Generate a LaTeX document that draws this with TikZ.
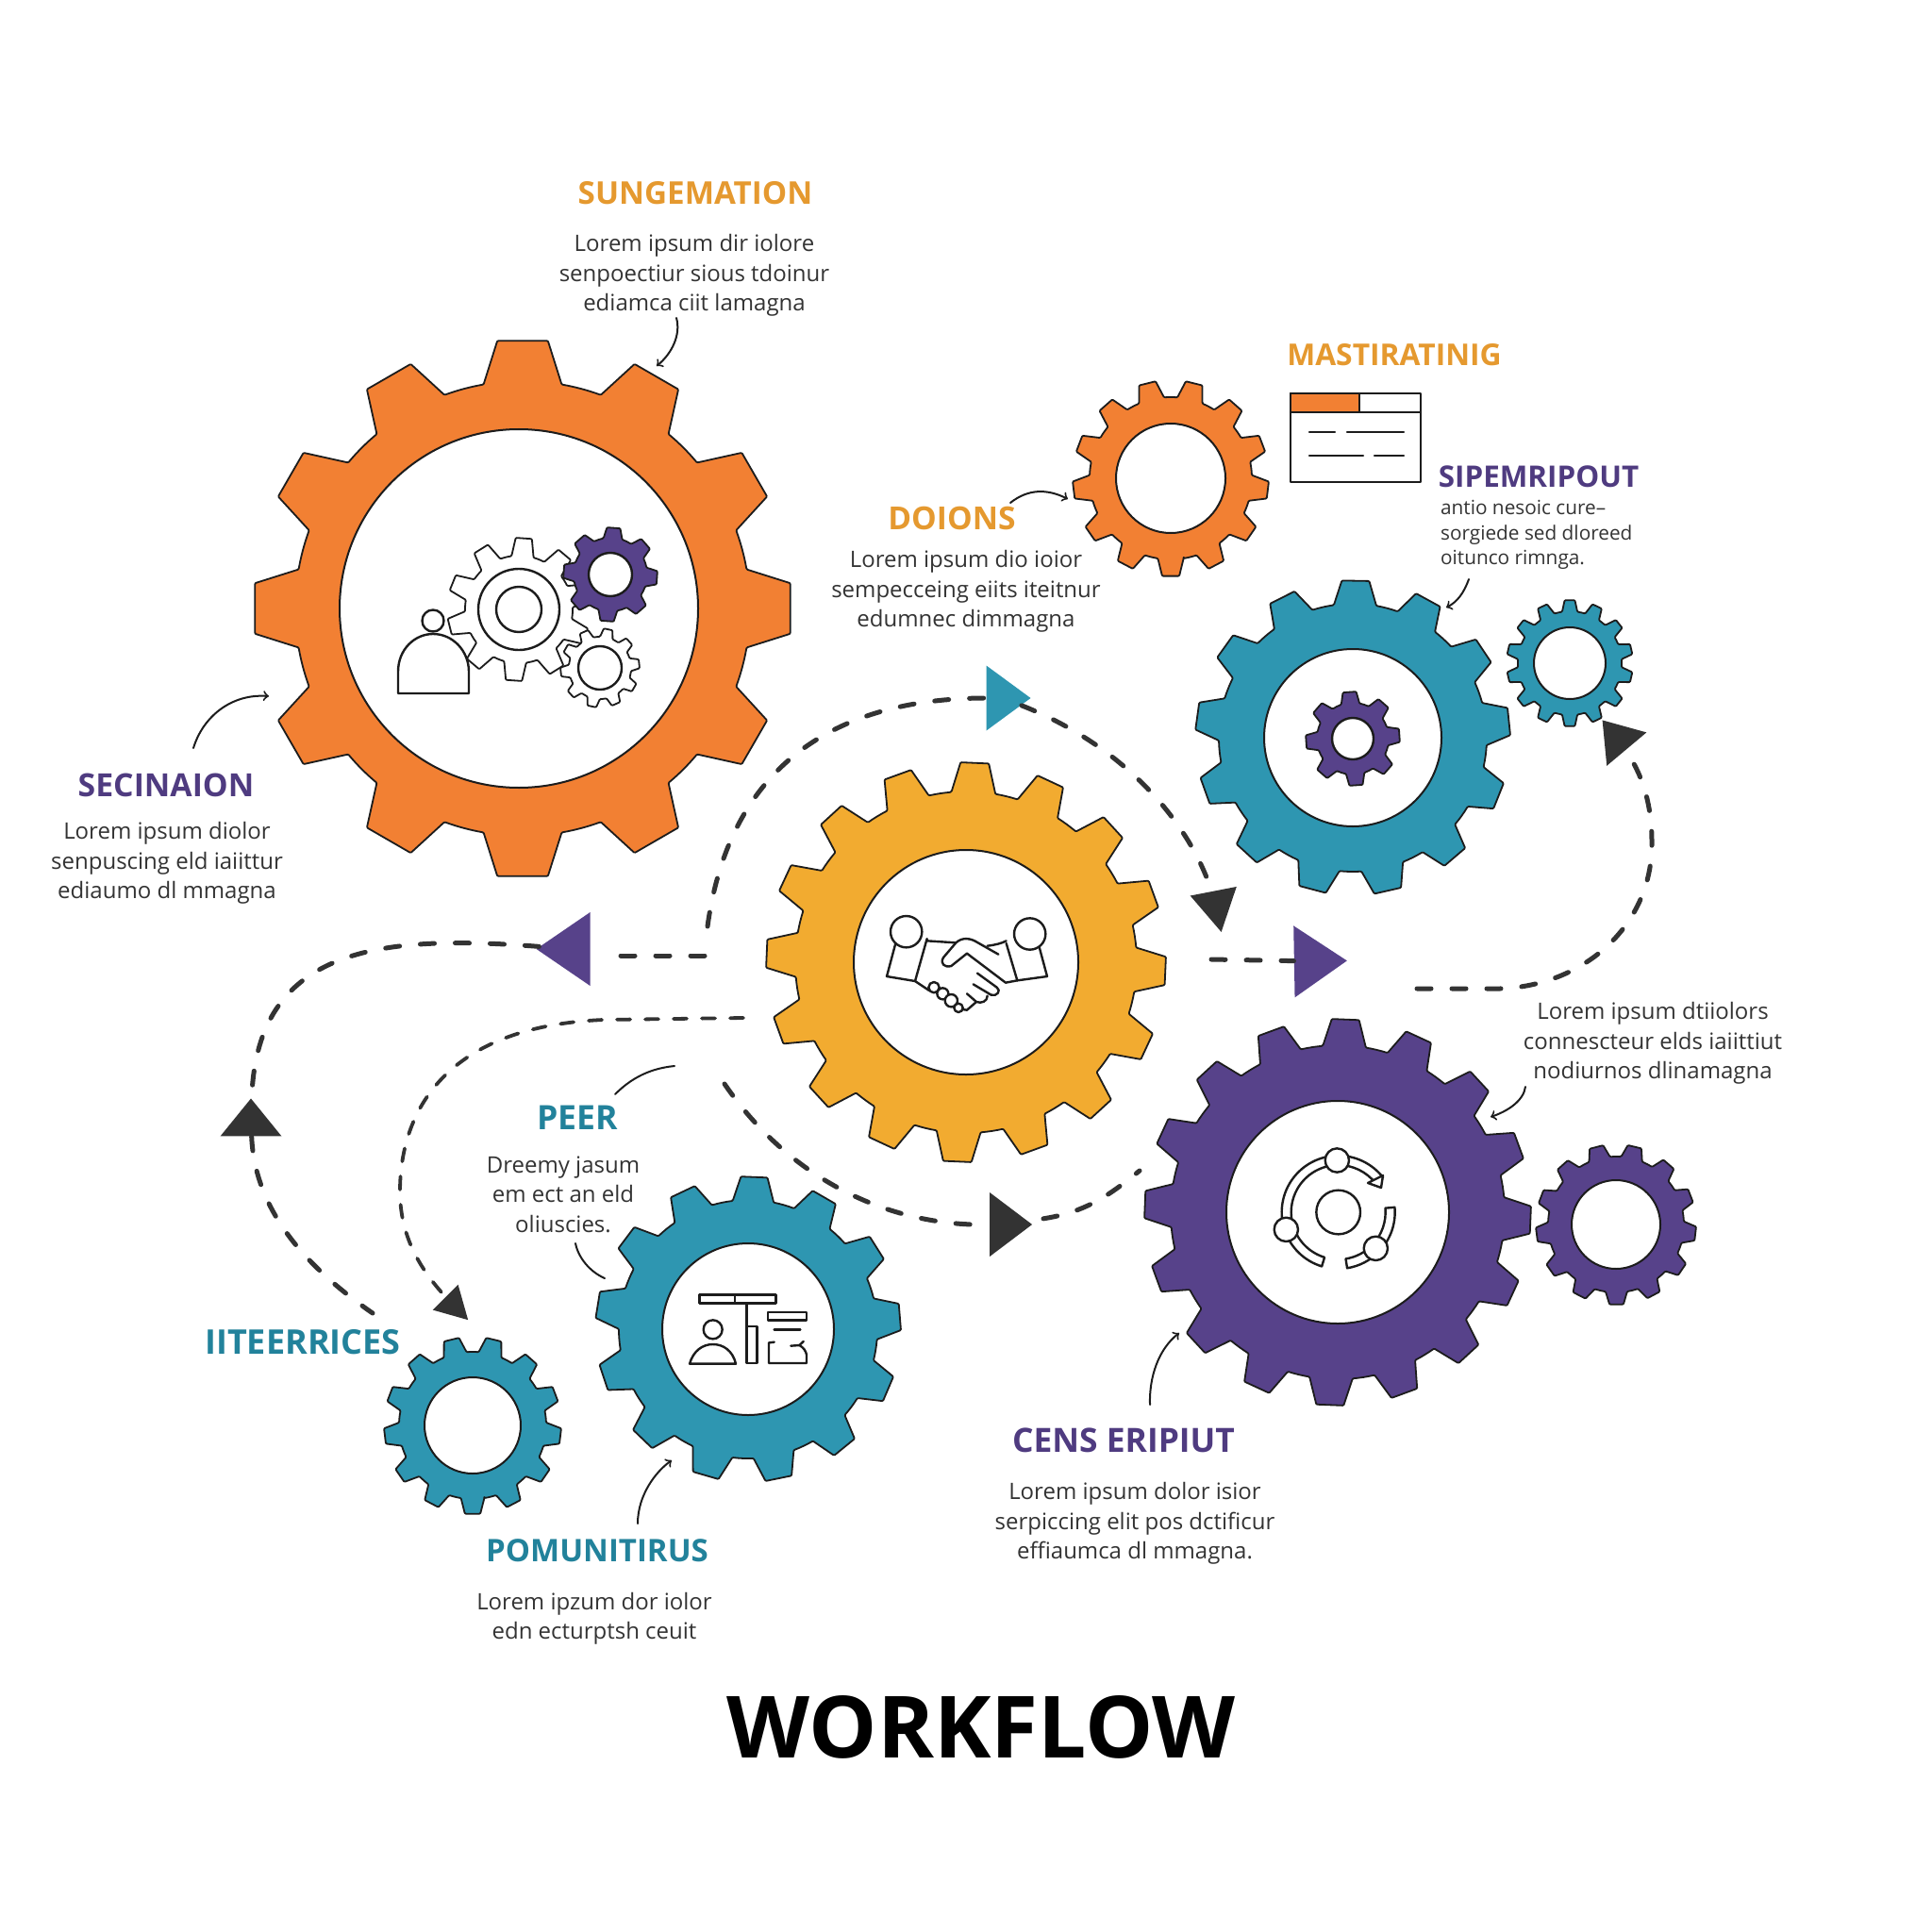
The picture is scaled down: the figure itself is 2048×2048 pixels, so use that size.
\documentclass[tikz,border=0pt]{standalone}
\usepackage{fontspec}
\setmainfont{Open Sans}
\usetikzlibrary{shapes.geometric,arrows}
\definecolor{gearO}{HTML}{F28033}
\definecolor{gearY}{HTML}{F2AB30}
\definecolor{gearT}{HTML}{2E96B1}
\definecolor{gearP}{HTML}{57428A}
\definecolor{labO}{HTML}{E5992F}
\definecolor{labT}{HTML}{22829B}
\definecolor{labP}{HTML}{4F3B80}
\definecolor{ink}{HTML}{1C1C1C}
\definecolor{dashc}{HTML}{333333}
\tikzset{
	gearline/.style={draw=ink,line width=.9pt,line join=round,rounded corners=.5pt},
	holec/.style={circle,draw=ink,line width=1pt,fill=white,inner sep=0pt},
	iconl/.style={draw=ink,line width=1.2pt,line join=round,line cap=round},
	dashl/.style={draw=dashc,line width=2.5pt,line cap=round,dash pattern=on 7.5pt off 11pt},
	dashm/.style={draw=dashc,line width=1.9pt,line cap=round,dash pattern=on 7pt off 8pt},
	callout/.style={draw=ink,line width=1pt,line cap=round},
	tri/.style={isosceles triangle,isosceles triangle stretches,inner sep=0pt,draw=none},
	bodyt/.style={text=ink!90,align=center,font=\fontsize{12}{15.7}\selectfont},
}
\newcommand{\gearbody}[7]{%
	\draw[gearline,fill=#7,shift={(#1,#2)}] ({#4-.33*360/#3}:#6)
	foreach \k in {1,...,#3}{
		-- ({#4+(\k-1)*360/#3-.18*360/#3}:#5)
		-- ({#4+(\k-1)*360/#3+.18*360/#3}:#5)
		-- ({#4+(\k-1)*360/#3+.33*360/#3}:#6)
		arc[start angle={#4+(\k-1)*360/#3+.33*360/#3},end angle={#4+\k*360/#3-.33*360/#3},radius=#6]
	} -- cycle;}
\begin{document}
\begin{tikzpicture}[x=.5pt,y=-.5pt,>=to]
	\useasboundingbox (0,0) rectangle (2048,2048);
	\gearbody{554}{645}{12}{0}{285}{241}{gearO}
	\node[holec,minimum size=190pt] (holeBig) at (550,645) {};
	\foreach \x/\y/\n/\p/\ro/\rr/\c/\h/\m in {
		1241/507/13/90/104/86/gearO/58/Top,
		1024/1020/16/-87.5/212/181/gearY/119/Mid,
		1434/782/13/-89/167/142/gearT/94/Right,
		1664/703/14/-90/67/55/gearT/38/Side,
		1418/1285/16/-87.7/205/177/gearP/118/Low,
		1713/1298/13/-76.5/85/72/gearP/47/Far,
		793/1409/13/-87.7/162/137/gearT/91/Work,
		501/1511/13/90/94/78/gearT/51/Back}{
		\gearbody{\x}{\y}{\n}{\p}{\ro}{\rr}{\c}
		\node[holec,minimum size=\h pt] (hole\m) at (\x,\y) {};
	}
	
	\path
	(750,982)coordinate (loopS)
	(747,1013)coordinate (backS)
	(640,1013)coordinate (backE)
	(395,1392)coordinate (returnE)
	(788,1079)coordinate (innerS)
	(768,1149)coordinate (lowS)
	(1208,1241)coordinate (lowE)
	(1284,1017)coordinate (rightS)
	(1502,1048)coordinate (sideS)
	(717,337)coordinate (sunT) (696,388)coordinate (sunH)
	(205,793)coordinate (secT) (285,738)coordinate (secH)
	(1071,533)coordinate (doiT) (1132,529)coordinate (doiH)
	(1557,614)coordinate (sipT) (1533,644)coordinate (sipH)
	(1617,1152)coordinate (conT) (1580,1184)coordinate (conH)
	(715,1130)coordinate (peeA) (652,1160)coordinate (peeB)
	(610,1318)coordinate (peeC) (641,1355)coordinate (peeD)
	(676,1615)coordinate (pomT) (712,1548)coordinate (pomH)
	(1219,1489)coordinate (cenT) (1250,1413)coordinate (cenH)
	;
	
	\node[tri,fill=gearT,minimum height=23.5pt,minimum width=34.5pt] (triTeal) at (1063,740) {};
	\node[tri,fill=gearP,rotate=180,minimum height=28.5pt,minimum width=39pt] (triBack) at (605,1006) {};
	\node[tri,fill=gearP,rotate=1,minimum height=28pt,minimum width=38pt] (triFwd) at (1392,1019) {};
	\node[tri,fill=dashc,rotate=90,minimum height=20pt,minimum width=32.5pt] (triUp) at (266,1189) {};
	\node[tri,fill=dashc,rotate=-79,minimum height=22pt,minimum width=25pt] (triDown) at (1289,959) {};
	\node[tri,fill=dashc,rotate=130,minimum height=20pt,minimum width=27.5pt] (triSide) at (1715,783) {};
	\node[tri,fill=dashc,minimum height=22.5pt,minimum width=34pt] (triLow) at (1066,1298) {};
	\node[tri,fill=dashc,rotate=-45,minimum height=17pt,minimum width=19pt] (triIn) at (480,1383) {};
	
	\draw[dashl] (loopS) .. controls (775,800) and (900,740) .. (triTeal);
	\draw[dashl] (triTeal) .. controls (1190,790) and (1260,870) .. (triDown);
	\draw[dashl] (backS)--(backE);
	\draw[dashl] (triBack) .. controls (400,990) and (272,1005) .. (triUp);
	\draw[dashl] (triUp) .. controls (270,1280) and (320,1340) .. (returnE);
	\draw[dashm] (innerS)--(640,1081) .. controls (470,1088) and (424,1180) .. (424,1263) .. controls (424,1310) and (445,1345) .. (triIn);
	\draw[dashl] (lowS) .. controls (830,1240) and (930,1300) .. (triLow);
	\draw[dashl,shorten <=8pt] (triLow) .. controls (1150,1285) and (1175,1268) .. (lowE);
	\draw[dashl] (rightS)--(triFwd);
	\draw[dashl] (sideS)--(1590,1048) .. controls (1680,1045) and (1752,980) .. (1751,893) .. controls (1751,850) and (1740,820) .. (triSide);
	
	\draw[callout,->] (sunT) .. controls (722,355) and (712,375) .. (sunH);
	\draw[callout,->] (secT) .. controls (215,760) and (245,735) .. (secH);
	\draw[callout,->] (doiT) .. controls (1090,518) and (1110,518) .. (doiH);
	\draw[callout,->] (sipT) .. controls (1552,628) and (1545,638) .. (sipH);
	\draw[callout,->] (conT) .. controls (1615,1167) and (1598,1178) .. (conH);
	\draw[callout] (peeA) .. controls (684,1133) and (665,1147) .. (peeB);
	\draw[callout] (peeC) .. controls (613,1333) and (625,1348) .. (peeD);
	\draw[callout,->] (pomT) .. controls (676,1585) and (695,1560) .. (pomH);
	\draw[callout,->] (cenT) .. controls (1218,1460) and (1228,1430) .. (cenH);
	
	\foreach \x/\y/\c/\z/\n/\s in {
		737/205/labO/16.6/labSun/SUNGEMATION,
		1478/376/labO/15.9/labMas/MASTIRATINIG,
		1631/505/labP/15.7/labSip/SIPEMRIPOUT,
		1009/549/labO/16.8/labDoi/DOIONS,
		176/832/labP/16.9/labSec/SECINAION,
		612/1185/labT/17.8/labPee/PEER,
		321/1423/labT/18/labIte/IITEERRICES,
		633/1644/labT/16.5/labPom/POMUNITIRUS,
		1191/1527/labP/17.7/labCen/CENS ERIPIUT}
	\node[text=\c,font=\fontsize{\z}{20}\selectfont\bfseries] (\n) at (\x,\y) {\s};
	
	\node[bodyt] (txtSun) at (736,292) {Lorem ipsum dir iolore\\senpoectiur sious tdoinur\\ediamca ciit lamagna};
	\node[bodyt,align=left,anchor=west,font=\fontsize{10.4}{13.4}\selectfont] (txtSip) at (1520,567) {antio nesoic cure–\\sorgiede sed dloreed\\oitunco rimnga.};
	\node[bodyt] (txtDoi) at (1024,627) {Lorem ipsum dio ioior\\sempecceing eiits iteitnur\\edumnec dimmagna};
	\node[bodyt] (txtSec) at (177,915) {Lorem ipsum diolor\\senpuscing eld iaiittur\\ediaumo dl mmagna};
	\node[bodyt] (txtCon) at (1752,1106) {Lorem ipsum dtiiolors\\connescteur elds iaiittiut\\nodiurnos dlinamagna};
	\node[bodyt] (txtPee) at (597,1266) {Dreemy jasum\\em ect an eld\\oliuscies.};
	\node[bodyt] (txtPom) at (630,1716) {Lorem ipzum dor iolor\\edn ecturptsh ceuit};
	\node[bodyt] (txtCen) at (1203,1615) {Lorem ipsum dolor isior\\serpiccing elit pos dctificur\\effiaumca dl mmagna.};
	\node[font=\fontsize{45.5}{52}\selectfont\bfseries,text=black] (title) at (1040,1831) {WORKFLOW};
	
	% window
	\draw[iconl,fill=gearO] (1368,417) rectangle (1441,437);
	\draw[iconl] (1368,417) rectangle (1506,511) (1368,437)--(1506,437);
	\draw[iconl] (1388,458)--(1415,458) (1428,458)--(1488,458) (1388,483)--(1445,483) (1457,483)--(1488,483);
	
	% gears in the big wheel
	\gearbody{550}{646}{10}{-86}{76}{57}{white}
	\draw[iconl] (550,646) circle (43) (550,646) circle (24);
	\gearbody{636}{708}{10}{-78}{42}{33}{white}
	\draw[iconl] (636,708) circle (23);
	\gearbody{647}{609}{8}{-86}{50}{39}{gearP}
	\draw[iconl,fill=white] (647,609) circle (23);
	\draw[iconl,fill=white] (459,658) circle (11.5);
	\draw[iconl,fill=white] (422,735)--(422,712) .. controls (422,688) and (440,672) .. (459,672) .. controls (480,672) and (497,690) .. (497,712)--(497,735)--cycle;
	
	% small gear in the teal wheel
	\gearbody{1434}{783}{8}{-94}{50}{38}{gearP}
	\draw[iconl,fill=white] (1434,783) circle (22);
	
	% handshake
	\begin{scope}[shift={(900,880)},x=.16667pt,y=-.16667pt]
		\draw[iconl] (182,323) circle (50) (575,330) circle (50);
		\draw[iconl] (148,360)--(120,465)--(210,480)--(248,345) (500,360)--(535,478)--(630,465)--(605,372);
		\draw[iconl] (248,352)--(340,358) (440,368) .. controls (465,365) and (485,360) .. (500,352);
		\draw[iconl] (475,395)--(410,358) .. controls (385,342) and (360,340) .. (340,358)--(300,405) .. controls (288,425) and (305,438) .. (325,432)--(375,392)--(498,485)--(535,478);
		\draw[iconl] (408,455)--(470,500) .. controls (485,510) and (470,530) .. (452,524)--(395,490) (440,527) .. controls (440,545) and (420,552) .. (405,546)--(375,520) (405,546)--(375,572)--(360,570);
		\draw[iconl] (210,480)--(255,510);
		\foreach \a/\b/\r in {270/500/17,298/520/18,325/542/20,348/565/14}\draw[iconl,fill=white] (\a,\b) circle (\r);
	\end{scope}
	
	% people and tools
	\begin{scope}[shift={(690,1330)},x=.16667pt,y=-.16667pt]
		\draw[iconl] (155,127) rectangle (397,155) (267,127)--(267,155) (305,155)--(305,228);
		\draw[iconl] (305,228) rectangle (337,345) (372,183) rectangle (495,208) (392,238)--(475,238);
		\draw[iconl] (197,238) circle (30);
		\draw[iconl] (123,347) .. controls (135,305) and (165,285) .. (197,285) .. controls (230,285) and (260,305) .. (270,347)--cycle;
		\draw[iconl] (392,278)--(375,280)--(375,345)--(495,345)--(495,318) .. controls (492,305) and (485,295) .. (472,288)--(445,290) (472,288)--(485,276);
	\end{scope}
	
	% cycle
	\begin{scope}[shift={(1320,1180)},x=.16667pt,y=-.16667pt]
		\draw[iconl] (296,315) circle (70);
		\foreach \a/\b in {162/270,270/322,162/107,44/-5,44/81}
		\draw[iconl,fill=white,shift={(296,315)}] (\a:180) arc[start angle=\a,end angle=\b,radius=180]--(\b:150) arc[start angle=\b,end angle=\a,radius=150]--cycle;
		\draw[iconl,fill=white] (390,222)--(438,198)--(432,237)--cycle;
		\foreach \a/\b in {292/150,130/370,415/430}\draw[iconl,fill=white] (\a,\b) circle (38);
	\end{scope}
\end{tikzpicture}
\end{document}
